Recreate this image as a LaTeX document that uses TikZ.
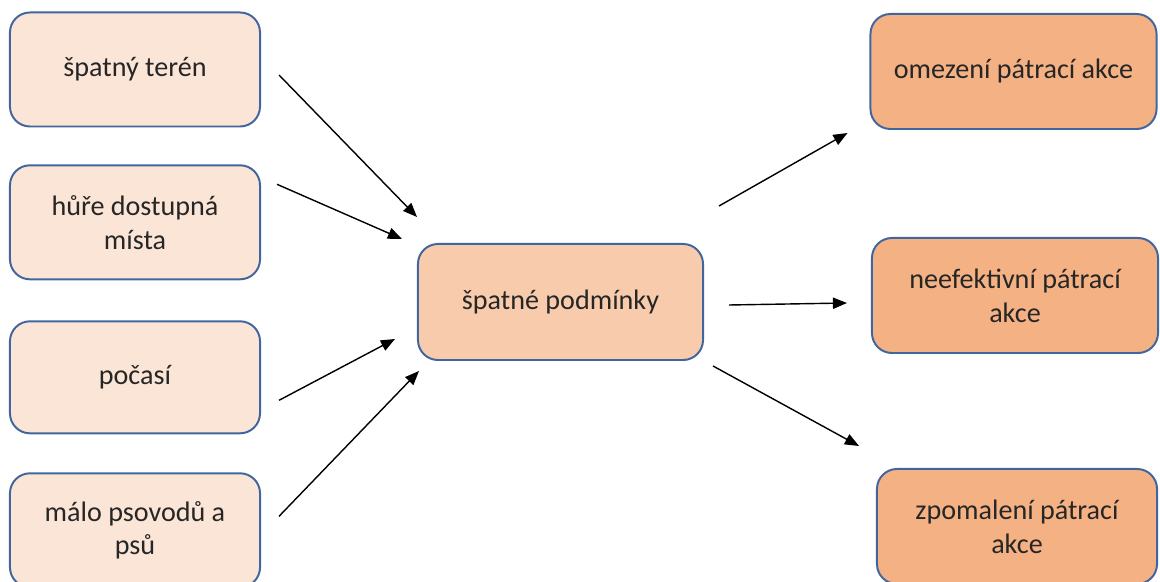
\documentclass[tikz,border=0pt]{standalone}
\usepackage{fontspec}
\setmainfont{Carlito}
\usetikzlibrary{positioning,arrows.meta}

\definecolor{boxline}{HTML}{41669E}
\definecolor{causefill}{HTML}{FBE5D6}
\definecolor{condfill}{HTML}{F8CBAD}
\definecolor{effectfill}{HTML}{F4B183}

\begin{document}
\begin{tikzpicture}[
  x=0.025cm, y=-0.025cm,
  causenode/.style={rectangle, rounded corners=0.5cm, draw=boxline, line width=1.4pt,
    fill=causefill, minimum width=6.25cm, minimum height=2.85cm, align=center,
    font=\fontsize{20}{24}\selectfont, text=black!85},
  condnode/.style={causenode, fill=condfill, minimum width=7.125cm, minimum height=2.9cm},
  effectnode/.style={causenode, fill=effectfill, minimum width=7.15cm, minimum height=2.875cm},
  arr/.style={line width=1pt, -{Triangle[length=10pt,width=8pt]}}
]
\useasboundingbox (0,0) rectangle (1160,582);

%Nodes causes
\node[causenode] (terrain) at (135,69.5) {špatný terén};
\node[causenode, below=0.92cm of terrain] (access) {hůře dostupná\\místa};
\node[causenode, below=1cm of access, minimum height=2.8cm] (weather) {počasí};
\node[causenode, below=0.95cm of weather] (handlers) {málo psovodů a\\psů};

%Node middle
\node[condnode] (cond) at (560.5,302) {špatné podmínky};

%Nodes effects
\node[effectnode] (limit) at (1013.5,71.5) {omezení pátrací akce};
\node[effectnode] (ineff) at (1015,295.5) {neefektivní pátrací\\akce};
\node[effectnode, minimum width=7cm] (slow) at (1017,526.5) {zpomalení pátrací\\akce};

%Arrows
\draw[arr] ([shift={(18,5.5)}]terrain.east) -- ([shift={(0,-26)}]cond.north west);
\draw[arr] ([shift={(16,-38)}]access.east) -- ([shift={(-15,-4)}]cond.north west);
\draw[arr] ([shift={(18,23)}]weather.east) -- ([shift={(-22,-22)}]cond.south west);
\draw[arr] ([shift={(18,-14)}]handlers.east) -- ([shift={(2,10)}]cond.south west);
\draw[arr] ([shift={(15,-37)}]cond.north east) -- ([shift={(-22,3)}]limit.south west);
\draw[arr] ([shift={(25,3)}]cond.east) -- ([shift={(-24,7.5)}]ineff.west);
\draw[arr] ([shift={(9,5)}]cond.south east) -- ([shift={(-17,-22)}]slow.north west);
\end{tikzpicture}
\end{document}
